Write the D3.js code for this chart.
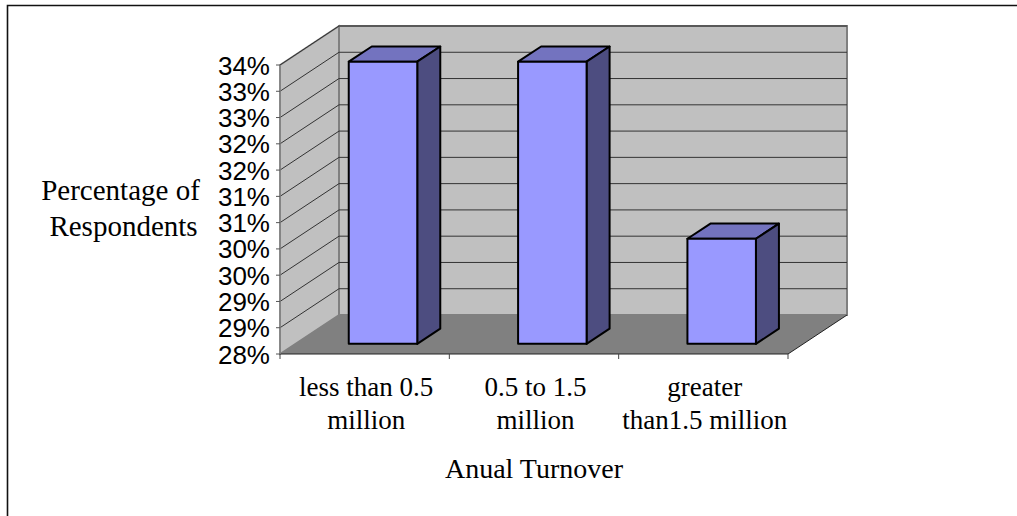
<!DOCTYPE html>
<html><head><meta charset="utf-8">
<script src="https://cdnjs.cloudflare.com/ajax/libs/d3/7.8.5/d3.min.js"></script>
<style>html,body{margin:0;padding:0;background:#fff}svg{display:block}</style>
</head><body><svg id="c" width="1017" height="516"></svg>
<script>
const categories = ["less than 0.5 million", "0.5 to 1.5 million", "greater than1.5 million"];
const categoryLines = [["less than 0.5", "million"], ["0.5 to 1.5", "million"], ["greater", "than1.5 million"]];
const values = [33.37, 33.37, 30.0];
const tickValues = [28, 28.5, 29, 29.5, 30, 30.5, 31, 31.5, 32, 32.5, 33, 33.5];
const tickLabels = ["28%", "29%", "29%", "30%", "30%", "31%", "31%", "32%", "32%", "33%", "33%", "34%"];
const yTitle = ["Percentage of", "Respondents"];
const xTitle = "Anual Turnover";

const svg = d3.select("#c");
const x = d3.scaleBand().domain(categories).range([280, 788]);
const y = d3.scaleLinear().domain([28, 33.5]).range([354, 65]);
const DX = 59, DY = -39;
const P = (px, v, d) => [px + d * DX, y(v) + d * DY];
const poly = pts => "M" + pts.map(p => p.join(",")).join("L") + "Z";
const yMin = y.domain()[0], yMax = y.domain()[1];
const [xL, xR] = x.range();

// frame
svg.append("path").attr("d", "M7.5,516V5.5H1017").attr("fill", "none").attr("stroke", "#111").attr("stroke-width", 1.6);

// walls
svg.append("path").attr("d", poly([P(xL, yMin, 0), P(xL, yMax, 0), P(xL, yMax, 1), P(xL, yMin, 1)]))
  .attr("fill", "#c0c0c0").attr("stroke", "#808080").attr("stroke-width", 1.5);
svg.append("path").attr("d", poly([P(xL, yMin, 1), P(xL, yMax, 1), P(xR, yMax, 1), P(xR, yMin, 1)]))
  .attr("fill", "#c0c0c0").attr("stroke", "#808080").attr("stroke-width", 2);
svg.append("path").attr("d", poly([P(xL, yMin, 0), P(xR, yMin, 0), P(xR, yMin, 1), P(xL, yMin, 1)]))
  .attr("fill", "#808080");

// gridlines
tickValues.slice(1).forEach(t => {
  const a = P(xL, t, 0), b = P(xL, t, 1), c = P(xR, t, 1);
  svg.append("path").attr("d", `M${a}L${b}L${c}`).attr("fill", "none").attr("stroke", "#333").attr("stroke-width", 1);
});
// floor front & right edges
svg.append("path").attr("d", `M${P(xL, yMin, 0)}L${P(xR, yMin, 0)}L${P(xR, yMin, 1)}`)
  .attr("fill", "none").attr("stroke", "#222").attr("stroke-width", 1);

// axis lines and ticks
svg.append("path").attr("d", `M${xL},${y(yMax)}V${y(yMin)}`).attr("stroke", "#808080").attr("stroke-width", 1.5);
tickValues.forEach(t => svg.append("line").attr("x1", xL - 4).attr("x2", xL).attr("y1", y(t)).attr("y2", y(t))
  .attr("stroke", "#555").attr("stroke-width", 1));
[...categories.map(c => x(c)), xR].forEach(px => svg.append("line").attr("x1", px).attr("x2", px)
  .attr("y1", y(yMin)).attr("y2", y(yMin) + 5).attr("stroke", "#444").attr("stroke-width", 1));

// bars
const D0 = 0.26, D1 = 0.65, barW = 68.5;
values.forEach((v, i) => {
  const l = x(categories[i]) + (x.bandwidth() - barW) / 2 + 3;
  const r = l + barW;
  const g = svg.append("g").attr("stroke", "#000").attr("stroke-width", 2).attr("stroke-linejoin", "round");
  g.append("path").attr("d", poly([P(l, v, D0), P(r, v, D0), P(r, v, D1), P(l, v, D1)])).attr("fill", "#7373bf");
  g.append("path").attr("d", poly([P(r, yMin, D0), P(r, v, D0), P(r, v, D1), P(r, yMin, D1)])).attr("fill", "#4d4d80");
  g.append("path").attr("d", poly([P(l, yMin, D0), P(r, yMin, D0), P(r, v, D0), P(l, v, D0)])).attr("fill", "#9999ff");
});

// y tick labels
tickValues.forEach((t, i) => svg.append("text").attr("x", 270).attr("y", y(t)).attr("dy", 9.5)
  .attr("text-anchor", "end").attr("font-family", "Liberation Sans").attr("font-size", 26).attr("fill", "#000").text(tickLabels[i]));

const serif = (sel, size) => sel.attr("font-family", "Liberation Serif").attr("font-size", size).attr("fill", "#000");

// category labels
categories.forEach((c, i) => categoryLines[i].forEach((ln, k) =>
  serif(svg.append("text"), 27).attr("x", x(c) + x.bandwidth() / 2 + 1.5).attr("y", 396 + k * 33).attr("text-anchor", "middle").text(ln)));

// titles
serif(svg.append("text"), 29).attr("x", 120.5).attr("y", 200).attr("text-anchor", "middle").text(yTitle[0]);
serif(svg.append("text"), 29).attr("x", 123.5).attr("y", 236).attr("text-anchor", "middle").text(yTitle[1]);
serif(svg.append("text"), 28).attr("x", 534).attr("y", 478).attr("text-anchor", "middle").text(xTitle);
</script></body></html>
